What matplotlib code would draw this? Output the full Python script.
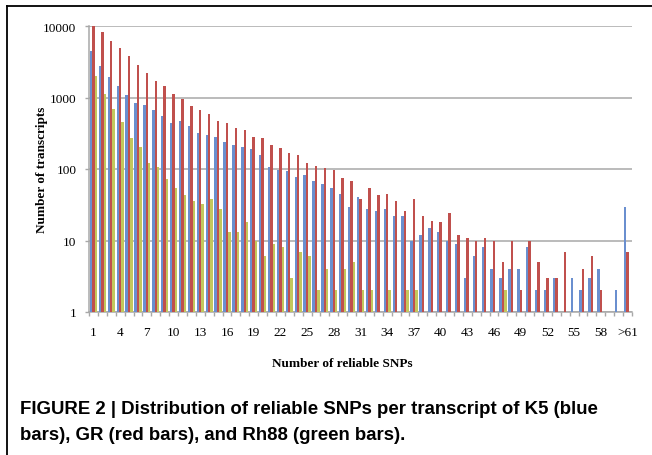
import numpy as np
import matplotlib
matplotlib.use("Agg")
import matplotlib.pyplot as plt
from matplotlib.lines import Line2D

## Data (0 = no bar)
categories = [str(i) for i in range(1, 61)] + [">61"]

k5 = [4400, 2770, 1920, 1470, 1080, 835, 785, 675, 560, 445,
      465, 395, 315, 298, 278, 242, 215, 205, 189, 158,
      108, 98, 93, 77, 83, 67, 62, 55, 44, 29,
      40, 28, 26, 28, 22, 22, 10, 12, 15, 13,
      10, 9, 3, 6, 8, 4, 3, 4, 4, 8,
      2, 2, 3, 0, 3, 2, 3, 4, 0, 2,
      29]
gr = [10900, 8150, 6200, 4850, 3780, 2850, 2200, 1720, 1430, 1110,
      955, 768, 675, 592, 472, 434, 373, 347, 278, 269,
      216, 197, 166, 156, 123, 110, 104, 98, 75, 69,
      38, 55, 43, 45, 36, 26, 38, 22, 19, 18,
      24, 12, 11, 10, 11, 10, 5, 10, 2, 10,
      5, 3, 3, 7, 0, 4, 6, 2, 0, 0,
      7]
rh88 = [1970, 1110, 690, 460, 272, 205, 123, 108, 73, 54,
        43, 36, 32, 38, 28, 13, 13, 18, 10, 6,
        9, 8, 3, 7, 6, 2, 4, 2, 4, 5,
        2, 2, 0, 2, 0, 2, 2, 0, 0, 0,
        0, 0, 0, 0, 0, 0, 2, 0, 0, 0,
        0, 0, 0, 0, 0, 0, 0, 0, 0, 0,
        0]

tickLabels = [categories[i] for i in range(0, 61, 3)]

blue = "#6a8fcf"
red = "#c0504d"
green = "#c3c75c"
gridGray = "#a8a8a8"

serif = ["Liberation Serif", "DejaVu Serif"]
sans = ["Liberation Sans", "DejaVu Sans"]


def main():
    fig = plt.figure(figsize=(6.52, 4.56), dpi=100)
    ax = fig.add_axes([89 / 652, 1 - 313 / 456, 543 / 652, 286 / 456])

    x = np.arange(len(categories))
    w = 0.27
    ax.bar(x - w, k5, width=w, color=blue, log=True, zorder=3)
    ax.bar(x, gr, width=w, color=red, log=True, zorder=3)
    ax.bar(x + w, rh88, width=w, color=green, log=True, zorder=3)

    ax.set_yscale("log")
    ax.set_ylim(1, 10000)
    ax.set_xlim(-0.5, len(categories) - 0.5)

    ax.set_yticks([1, 10, 100, 1000, 10000])
    ax.set_yticklabels(["1", "10", "100", "1000", "10000"], fontfamily=serif, fontsize=9.5)
    ax.yaxis.set_minor_locator(matplotlib.ticker.NullLocator())
    ax.yaxis.grid(True, color=gridGray, linewidth=1.1, zorder=0)
    ax.set_axisbelow(True)

    # labels every 3rd category, ticks at every category boundary
    ax.set_xticks(np.arange(0, 61, 3))
    ax.set_xticklabels(tickLabels, fontfamily=serif, fontsize=9.5)
    ax.tick_params(axis="x", which="major", length=0, pad=10)
    ax.set_xticks(np.arange(-0.5, len(categories), 1), minor=True)
    ax.tick_params(axis="x", which="minor", length=3, color=gridGray, width=1)
    ax.tick_params(axis="y", length=3, color=gridGray, width=1, pad=6)

    for side in ["top", "right"]:
        ax.spines[side].set_visible(False)
    for side in ["left", "bottom"]:
        ax.spines[side].set_color(gridGray)
        ax.spines[side].set_linewidth(1.1)

    fig.text(42 / 652, 1 - 170 / 456, "Number of transcripts", rotation=90,
             ha="center", va="center", fontfamily=serif, fontweight="bold", fontsize=9.5)
    fig.text(342 / 652, 1 - 364 / 456, "Number of reliable SNPs",
             ha="center", va="center", fontfamily=serif, fontweight="bold", fontsize=9.5)

    # caption
    fig.text(20 / 652, 1 - 410 / 456,
             "FIGURE 2 | Distribution of reliable SNPs per transcript of K5 (blue",
             ha="left", va="center", fontfamily=sans, fontweight="bold", fontsize=13.4)
    fig.text(20 / 652, 1 - 436 / 456,
             "bars), GR (red bars), and Rh88 (green bars).",
             ha="left", va="center", fontfamily=sans, fontweight="bold", fontsize=13.4)

    # page frame (top and left)
    fig.add_artist(Line2D([7 / 652, 1], [1 - 7 / 456, 1 - 7 / 456], color="black", linewidth=1.3))
    fig.add_artist(Line2D([7 / 652, 7 / 652], [0, 1 - 7 / 456], color="black", linewidth=1.3))

    fig.savefig("out.png", dpi=100)


main()
